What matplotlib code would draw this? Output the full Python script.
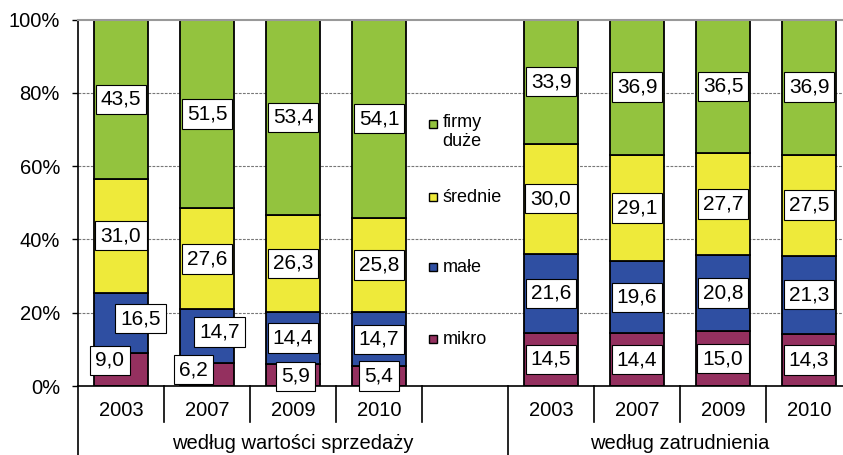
"""Struktura firm wg wielkości: sprzedaż i zatrudnienie (stacked 100% bars)."""

import matplotlib.pyplot as plt
import matplotlib.transforms as mtransforms

plt.rcParams["font.family"] = ["Liberation Sans", "DejaVu Sans"]

YEARS = ["2003", "2007", "2009", "2010"]
GROUPS = ["według wartości sprzedaży", "według zatrudnienia"]
SERIES = ["mikro", "małe", "średnie", "firmy\nduże"]

# values per series (bottom -> top), one list per group
SALES_MIKRO = [9.0, 6.2, 5.9, 5.4]
SALES_MALE = [16.5, 14.7, 14.4, 14.7]
SALES_SREDNIE = [31.0, 27.6, 26.3, 25.8]
SALES_DUZE = [43.5, 51.5, 53.4, 54.1]

EMPL_MIKRO = [14.5, 14.4, 15.0, 14.3]
EMPL_MALE = [21.6, 19.6, 20.8, 21.3]
EMPL_SREDNIE = [30.0, 29.1, 27.7, 27.5]
EMPL_DUZE = [33.9, 36.9, 36.5, 36.9]

YTICKS = [0, 20, 40, 60, 80, 100]

COLORS = ["#94305F", "#2F4FA2", "#EEEA3A", "#93C33E"]

# manual label nudges (group, bar, series) -> (dx, dy), as in the original
NUDGE = {
    (0, 0, 1): (0.23, 1.1),
    (0, 1, 1): (0.15, 1.2),
    (0, 0, 0): (-0.13, 2.5),
    (0, 1, 0): (-0.16, 1.4),
    (0, 2, 0): (0.03, -0.35),
}

W, H = 843, 455
FS = 14.5


def fmt(v):
    return f"{v:.1f}".replace(".", ",")


def main():
    fig = plt.figure(figsize=(W / 100, H / 100), dpi=100)
    x0, x1, y0, y1 = 78, 852, 386, 19.5
    ax = fig.add_axes([x0 / W, (H - y0) / H, (x1 - x0) / W, (y0 - y1) / H])

    groups = [
        [SALES_MIKRO, SALES_MALE, SALES_SREDNIE, SALES_DUZE],
        [EMPL_MIKRO, EMPL_MALE, EMPL_SREDNIE, EMPL_DUZE],
    ]
    positions = [[0, 1, 2, 3], [5, 6, 7, 8]]
    bw = 0.63

    for g, series in enumerate(groups):
        xs = positions[g]
        bottoms = [0.0] * len(xs)
        for s, vals in enumerate(series):
            ax.bar(xs, vals, bw, bottom=bottoms, color=COLORS[s],
                   edgecolor="black", linewidth=1.3, zorder=2)
            for i, (x, v, b) in enumerate(zip(xs, vals, bottoms)):
                dx, dy = NUDGE.get((g, i, s), (0, 0))
                ax.text(x + dx, b + v / 2 + dy, fmt(v), ha="center", va="center",
                        fontsize=15, zorder=4,
                        bbox=dict(boxstyle="square,pad=0.25", fc="white",
                                  ec="black", lw=0.8))
            bottoms = [b + v for b, v in zip(bottoms, vals)]

    ax.set_xlim(-0.5, 8.5)
    ax.set_ylim(0, 100)
    ax.set_yticks(YTICKS)
    ax.set_yticklabels([f"{t}%" for t in YTICKS], fontsize=FS)
    ax.tick_params(axis="y", direction="out", length=4, width=1, pad=9)
    ax.set_xticks([])
    ax.set_axisbelow(True)
    for t in YTICKS[1:-1]:
        ax.axhline(t, color="#777777", lw=0.8, ls=(0, (2.5, 1.2)), zorder=0)

    ax.spines["right"].set_visible(False)
    ax.spines["top"].set_color("#999999")
    ax.spines["top"].set_linewidth(1.5)
    ax.spines["left"].set_linewidth(1.2)
    ax.spines["bottom"].set_linewidth(1.2)

    # legend in the empty slot
    leg_y = [12.8, 32.4, 51.5, 71.4]
    for s, name in enumerate(SERIES):
        ax.plot(3.63, leg_y[s], marker="s", ms=5.5, mfc=COLORS[s], mec="black",
                mew=1, ls="none", zorder=3)
        if "\n" in name:
            tr = ax.transData + mtransforms.ScaledTranslation(0, 0.1, fig.dpi_scale_trans)
            va = "top"
        else:
            tr, va = ax.transData, "center"
        ax.text(3.74, leg_y[s], name, ha="left", va=va, fontsize=13,
                linespacing=1.1, zorder=3, transform=tr)

    # category axis drawn by hand: dividers, years, group names
    trans = mtransforms.blended_transform_factory(ax.transData, ax.transAxes)
    for b in [-0.5, 0.5, 1.5, 2.5, 3.5, 4.5, 5.5, 6.5, 7.5, 8.5]:
        low = -0.3 if b in (-0.5, 4.5, 8.5) else -0.098
        ax.plot([b, b], [0, low], color="black", lw=1.2, transform=trans, clip_on=False)
    for g in range(2):
        for x, yr in zip(positions[g], YEARS):
            ax.text(x, -0.066, yr, ha="center", va="center", fontsize=FS,
                    transform=trans)
    ax.text(2.0, -0.158, GROUPS[0], ha="center", va="center", fontsize=FS,
            transform=trans)
    ax.text(6.5, -0.158, GROUPS[1], ha="center", va="center", fontsize=FS,
            transform=trans)

    fig.savefig("out.png", dpi=100, facecolor="white")
    plt.close(fig)


if __name__ == "__main__":
    main()
